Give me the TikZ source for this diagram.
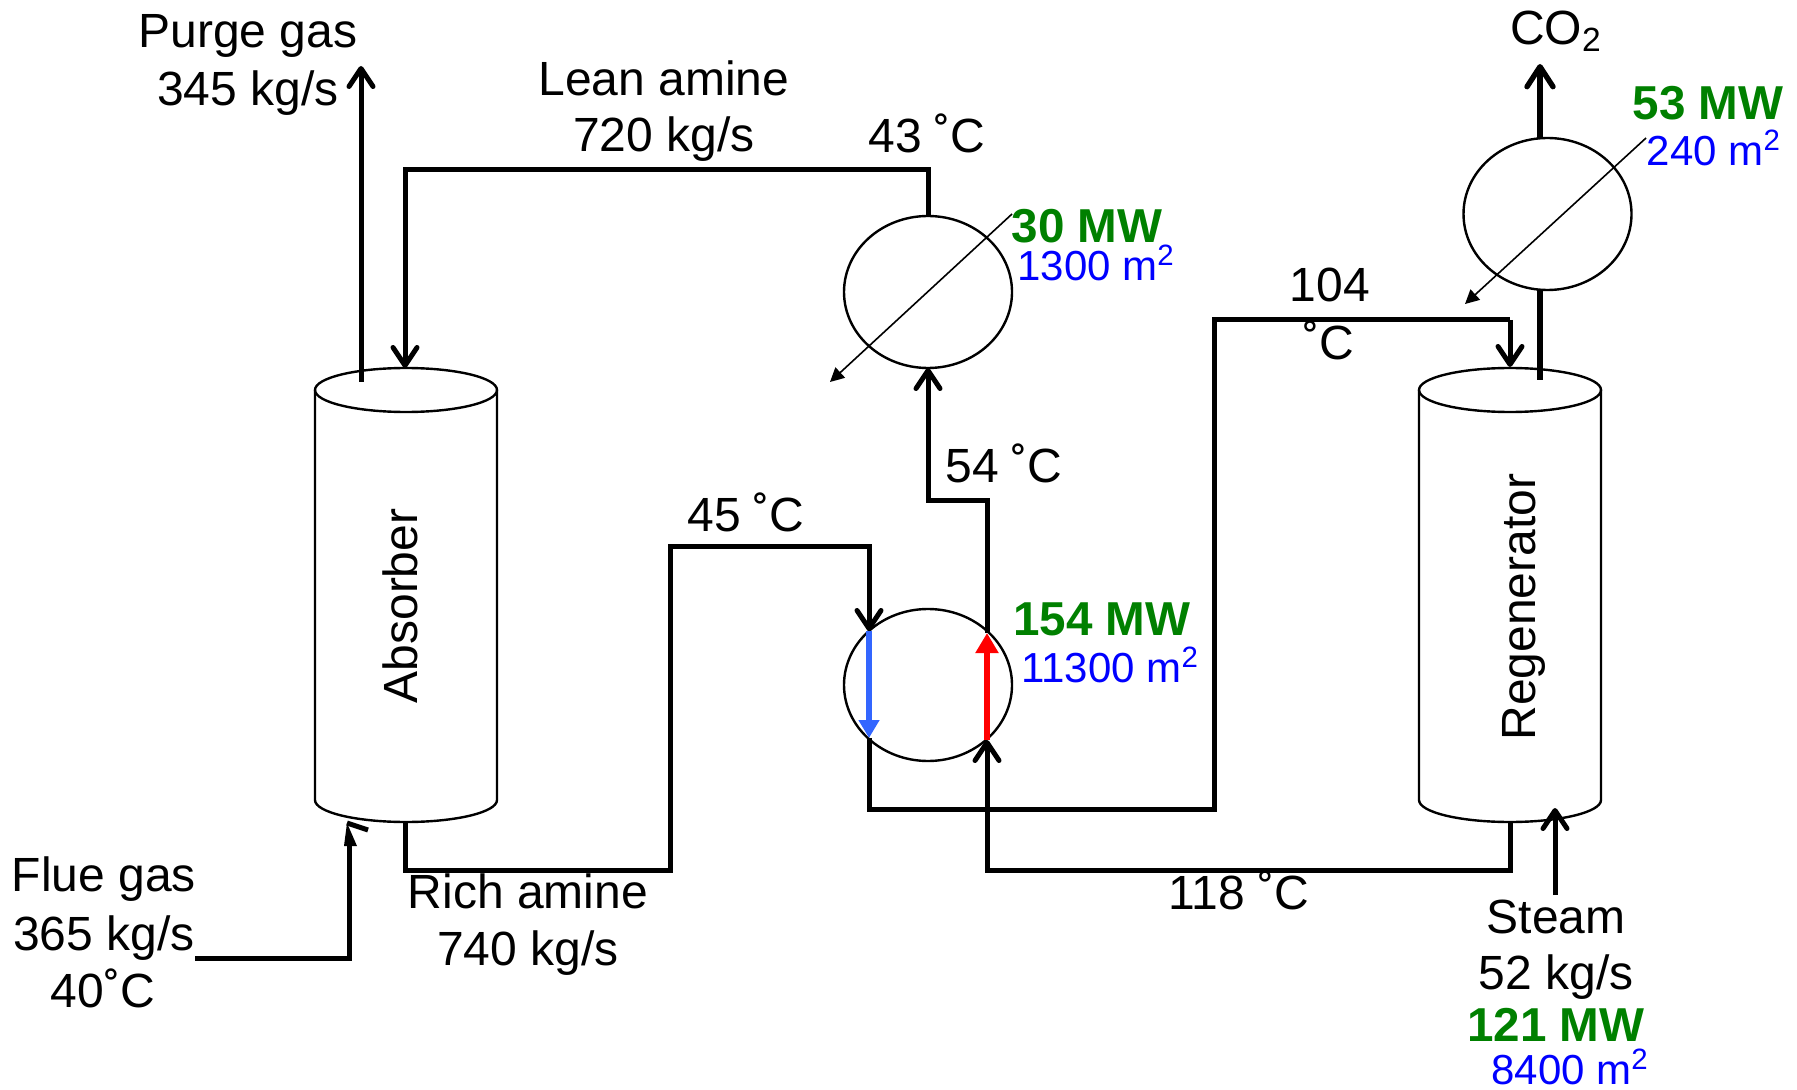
\documentclass[tikz,border=0pt]{standalone}
\usepackage{fontspec}
\setmainfont{Liberation Sans}
\usetikzlibrary{arrows.meta,shapes.geometric}
\definecolor{colorDuty}{HTML}{008000}
\definecolor{colorArea}{HTML}{0000FF}
\definecolor{colorCold}{HTML}{3366FF}
\definecolor{colorHot}{HTML}{FF0000}
\tikzset{
  flow/.style={line width=2.5pt,line join=miter,-{Straight Barb[length=9pt,width=12pt,round]}},
  pipe/.style={line width=2.5pt,line join=miter},
  duct/.style={line width=2.7pt,line join=miter},
  coolant/.style={line width=0.8pt,-{Triangle[length=7pt,width=7pt]}},
  wall/.style={line width=1.2pt},
  vesselcap/.style={draw,wall,ellipse,minimum width=91pt,minimum height=22pt,
    inner sep=0pt,outer sep=0pt},
  exchanger/.style={draw,wall,ellipse,minimum width=84pt,minimum height=76pt,
    inner sep=0pt,outer sep=0pt},
  lbl/.style={inner sep=0pt,font=\fontsize{24}{28}\selectfont},
  duty/.style={inner sep=0pt,text=colorDuty,font=\fontsize{23.8}{28}\selectfont\bfseries},
  area/.style={inner sep=0pt,text=colorArea,font=\fontsize{21}{25}\selectfont},
}
\begin{document}
\begin{tikzpicture}[x=0.5pt,y=-0.5pt]
   \useasboundingbox (0,0) rectangle (1797,1090);

   % NODES
   \node[vesselcap] (absTop) at (406,390) {};
   \node[vesselcap] (regTop) at (1510,390) {};
   \coordinate (absLow) at (315,800);
   \coordinate (regLow) at (1419,800);
   \node[exchanger] (hxC) at (928,292) {}; % cooler
   \node[exchanger] (hxM) at (928,685) {}; % cross exchanger
   \node[exchanger] (hxR) at (1547.5,214) {}; % condenser

   % DRAW VESSELS
   \path[draw,wall] (absTop.west)--(absLow) arc[start angle=180,end angle=360,x radius=45.5pt,y radius=11pt]--(absTop.east);
   \path[draw,wall] (regTop.west)--(regLow) arc[start angle=180,end angle=360,x radius=45.5pt,y radius=11pt]--(regTop.east);

   % CORNERS
   \coordinate (purge0) at (361,382);
   \coordinate (purge1) at (361,66);
   \coordinate (lean0) at (928,170);
   \coordinate (lean1) at (405,170);
   \coordinate (lean2) at (405,368);
   \coordinate (rich0) at (405,822);
   \coordinate (rich1) at (405,870);
   \coordinate (rich2) at (670,870);
   \coordinate (rich3) at (670,546);
   \coordinate (rich4) at (869,546);
   \coordinate (rich5) at (869,631);
   \coordinate (rich6) at (869,738);
   \coordinate (rich7) at (869,809);
   \coordinate (rich8) at (1214,809);
   \coordinate (rich9) at (1214,320);
   \coordinate (rich10) at (1510,320);
   \coordinate (rich11) at (1510,367);
   \coordinate (back0) at (1510,822);
   \coordinate (back1) at (1510,870);
   \coordinate (back2) at (987,870);
   \coordinate (back3) at (987,740);
   \coordinate (back4) at (987,633);
   \coordinate (back5) at (987,500);
   \coordinate (back6) at (928,500);
   \coordinate (flue0) at (195,958);
   \coordinate (flue1) at (349,958);
   \coordinate (flue2) at (349,845);
   \coordinate (flue3) at (347,823);
   \coordinate (flue4) at (368,830);
   \coordinate (flue5) at (357,846);
   \coordinate (flue6) at (344,846);
   \coordinate (steam0) at (1555,895);
   \coordinate (steam1) at (1555,808);
   \coordinate (co0) at (1540,138);
   \coordinate (co1) at (1540,64);
   \coordinate (co2) at (1540,290);
   \coordinate (co3) at (1540,380);
   \coordinate (coolA0) at (1012,214);
   \coordinate (coolA1) at (830,382);
   \coordinate (coolB0) at (1646,138);
   \coordinate (coolB1) at (1465,304);

   % DRAW STREAMS
   \path[draw,flow] (purge0)--(purge1);
   \path[draw,flow] (hxC.north)--(lean0)--(lean1)--(lean2);
   \path[draw,flow] (rich0)--(rich1)--(rich2)--(rich3)--(rich4)--(rich5);
   \path[draw,pipe] (rich6)--(rich7)--(rich8)--(rich9)--(rich10);
   \path[draw,flow] (rich10)--(rich11);
   \path[draw,flow] (back0)--(back1)--(back2)--(back3);
   \path[draw,flow] (back4)--(back5)--(back6)--(hxC.south);
   \path[draw,pipe] (flue0)--(flue1)--(flue2);
   \fill (flue3)--(flue5)--(flue6)--cycle;
   \path[draw,pipe] (flue3)--(flue4);
   \path[draw,flow] (steam0)--(steam1);
   \path[draw,duct,-{Straight Barb[length=10pt,width=13pt,round]}] (co0)--(co1);
   \path[draw,duct] (co2)--(co3);
   \path[draw,coolant] (coolA0)--(coolA1);
   \path[draw,coolant] (coolB0)--(coolB1);

   % INSIDE THE EXCHANGER
   \path[draw,colorCold,line width=2.8pt,-{Triangle[length=9pt,width=10pt]}] (rich5)--(rich6);
   \path[draw,colorHot,line width=3pt,-{Triangle[length=10pt,width=11pt]}] (back3)--(back4);

   % TEXT
   \node[lbl,rotate=90] (tAbs) at (400,606) {Absorber};
   \node[lbl,rotate=90] (tReg) at (1524,607) {Regenerator};
   \node[lbl] (t1) at (248,36) {Purge gas};
   \node[lbl] (t2) at (248,93) {345 kg/s};
   \node[lbl] (t3) at (664,78) {Lean amine};
   \node[lbl] (t4) at (664,139) {720 kg/s};
   \node[lbl] (t5) at (927,133) {43 ˚C};
   \node[lbl] (t6) at (1330,285) {104};
   \node[lbl] (t7) at (1329,340) {˚C};
   \node[lbl] (t8) at (1004,463) {54 ˚C};
   \node[lbl] (t9) at (746,512) {45 ˚C};
   \node[lbl] (t10) at (104,879) {Flue gas};
   \node[lbl] (t11) at (104,938) {365 kg/s};
   \node[lbl] (t12) at (103,988) {40˚C};
   \node[lbl] (t13) at (528,891) {Rich amine};
   \node[lbl] (t14) at (528,953) {740 kg/s};
   \node[lbl] (t15) at (1239,890) {118 ˚C};
   \node[lbl] (t16) at (1556,917) {Steam};
   \node[lbl] (t17) at (1556,977) {52 kg/s};
   \node[lbl] (t18) at (1556,31) {CO\textsubscript{2}};

   % DUTIES AND AREAS
   \node[duty] (d1) at (1087,226) {30 MW};
   \node[area] (a1) at (1096,263) {1300 m\textsuperscript{2}};
   \node[duty] (d2) at (1102,619) {154 MW};
   \node[area] (a2) at (1110,665) {11300 m\textsuperscript{2}};
   \node[duty] (d3) at (1708,103) {53 MW};
   \node[area] (a3) at (1714,148) {240 m\textsuperscript{2}};
   \node[duty] (d4) at (1556,1025) {121 MW};
   \node[area] (a4) at (1570,1067) {8400 m\textsuperscript{2}};
\end{tikzpicture}
\end{document}
